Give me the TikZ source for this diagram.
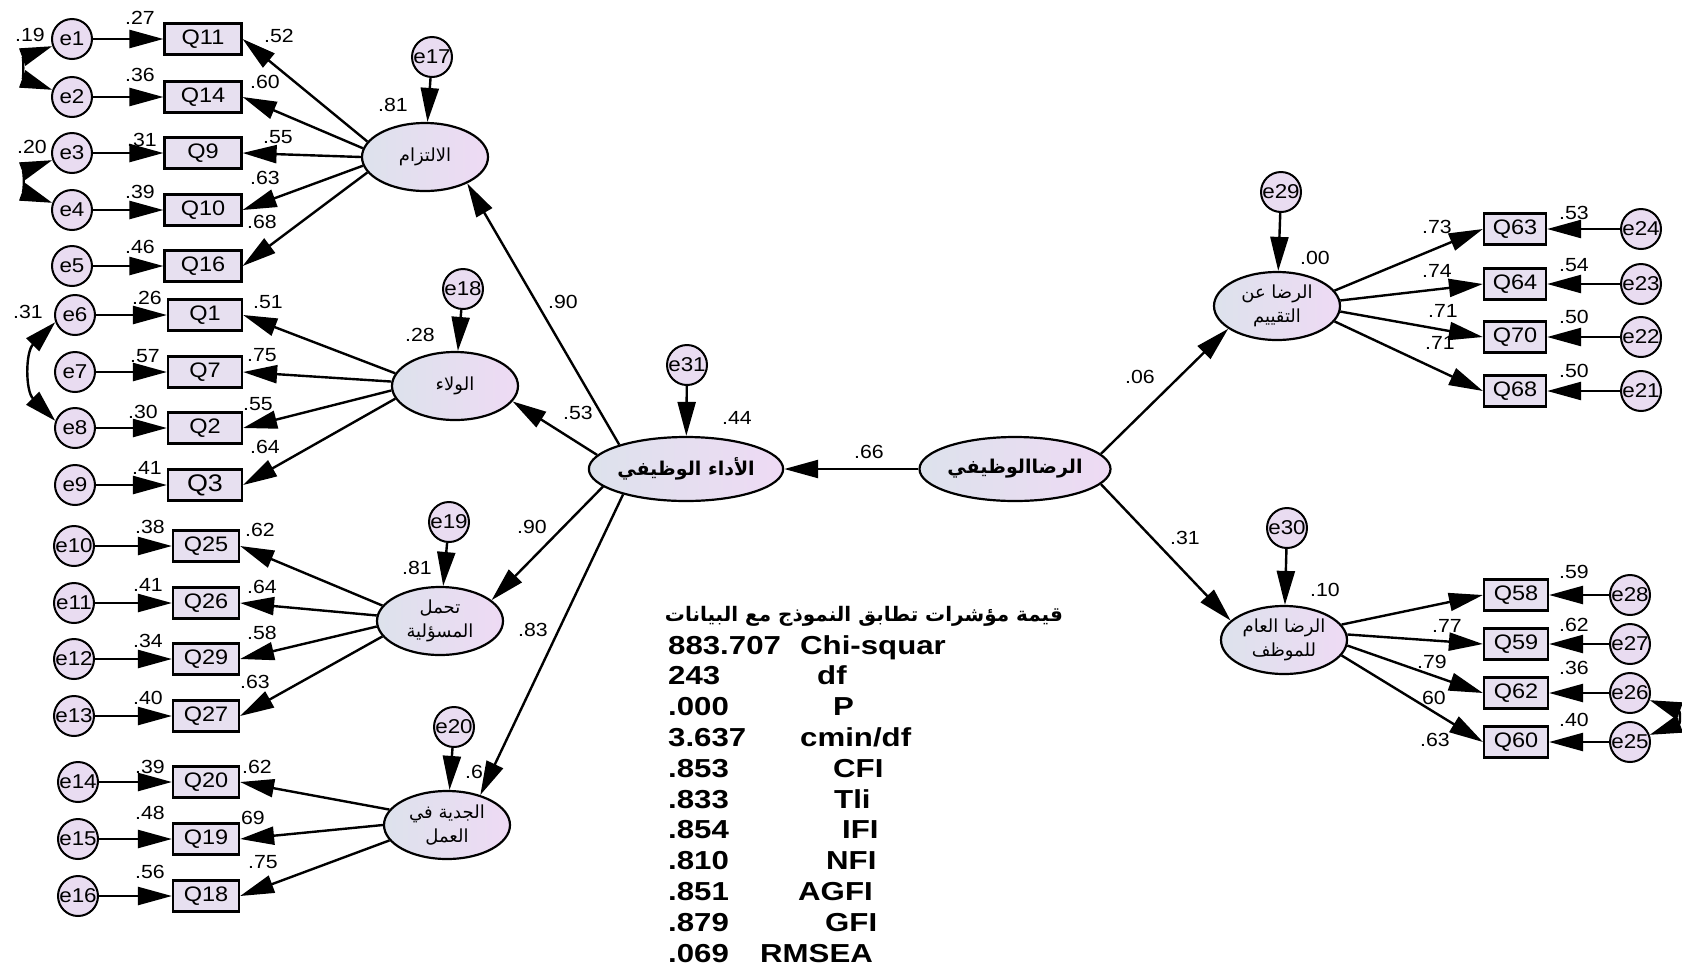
\documentclass[tikz,border=0pt]{standalone}
\usepackage{fontspec}
\setmainfont{Liberation Sans}[FakeStretch=1.12]
\newfontfamily\fitfont{Liberation Sans}[FakeStretch=1.2]
\newfontfamily\arabicfont[Script=Arabic]{DejaVu Sans}
\TeXXeTstate=1
\usetikzlibrary{arrows.meta,shapes.geometric}
\definecolor{errfill}{HTML}{E9DCF1}
\definecolor{boxfill}{HTML}{E7E0F0}
\definecolor{latleft}{HTML}{DDE2EC}
\definecolor{latright}{HTML}{EEDAF4}
\newcommand{\artxt}[1]{\beginR#1\endR}

\begin{document}
\begin{tikzpicture}[x=1pt,y=-1pt,
  err/.style={circle,draw,line width=2pt,fill=errfill,minimum size=40pt,inner sep=0pt,font=\fontsize{20}{20}\selectfont},
  obs/.style={rectangle,draw,line width=2.2pt,fill=boxfill,minimum height=31pt,inner sep=0pt,font=\fontsize{21}{21}\selectfont},
  lat/.style={ellipse,draw,line width=2.2pt,left color=latleft,right color=latright,minimum width=126pt,minimum height=68pt,inner sep=0pt,align=center,font=\arabicfont\fontsize{18}{24}\selectfont},
  val/.style={inner sep=0pt,font=\fontsize{19}{19}\selectfont},
  arr/.style={line width=2.4pt,-{Triangle[length=34pt,width=18pt]}},
  cov/.style={line width=2.4pt,{Triangle[length=32pt,width=18pt]}-{Triangle[length=32pt,width=18pt]}},
  fitrow/.style={inner sep=0pt,anchor=base west,font=\fitfont\bfseries\fontsize{26}{26}\selectfont}]
\useasboundingbox (0,0) rectangle (1682,970);

% الالتزام
\node[lat] (A1) at (425,157) {\artxt{الالتزام}};
\node[err] (e17) at (432,57) {e17};
\draw[arr] (e17) -- (A1);
\foreach \e/\q/\y/\a in {1/11/39/165,2/14/97/172,3/9/153/180,4/10/210/188,5/16/266/195}{
  \node[err] (e\e) at (72,\y) {e\e};
  \node[obs,minimum width=77pt] (Q\q) at (203,\y) {Q\q};
  \draw[arr] (e\e) -- (Q\q);
  \draw[arr] (A1.\a) -- (Q\q.east);
}
\draw[cov] (e1.200) to[out=200,in=160,looseness=1.8] (e2.160);
\draw[cov] (e3.200) to[out=200,in=160,looseness=1.8] (e4.160);
\foreach \v/\x/\y [count=\i] in {.27/140/18,.36/140/75,.31/142/140,.39/140/192,.46/140/247,.52/279/36,.60/265/82,.55/278/137,.63/265/178,.68/262/222,.81/393/105,.19/30/35,.20/32/147}
  \node[val] (la\i) at (\x,\y) {\v};

% الولاء
\node[lat] (A2) at (455,386) {\artxt{الولاء}};
\node[err] (e18) at (463,289) {e18};
\draw[arr] (e18) -- (A2);
\foreach \e/\q/\y/\a/\fs in {6/1/315/168/21,7/7/372/176/21,8/2/428/184/21,9/3/485/192/24}{
  \node[err] (e\e) at (75,\y) {e\e};
  \node[obs,minimum width=74pt,font=\fontsize{\fs}{\fs}\selectfont] (Q\q) at (205,\y) {Q\q};
  \draw[arr] (e\e) -- (Q\q);
  \draw[arr] (A2.\a) -- (Q\q.east);
}
\draw[cov] (e6.200) to[out=225,in=135,looseness=1.1] (e8.160);
\foreach \v/\x/\y [count=\i] in {.26/147/298,.57/145/356,.30/143/412,.41/147/468,.51/268/302,.75/262/355,.55/258/404,.64/265/447,.28/420/335,.31/28/312}
  \node[val] (lb\i) at (\x,\y) {\v};

% تحمل المسؤلية
\node[lat] (A3) at (440,621) {\artxt{تحمل}\\\artxt{المسؤلية}};
\node[err] (e19) at (449,522) {e19};
\draw[arr] (e19) -- (A3);
\foreach \e/\q/\y/\a in {10/25/546/165,11/26/603/175,12/29/659/185,13/27/716/195}{
  \node[err] (e\e) at (74,\y) {e\e};
  \node[obs,minimum width=66pt] (Q\q) at (206,\y) {Q\q};
  \draw[arr] (e\e) -- (Q\q);
  \draw[arr] (A3.\a) -- (Q\q.east);
}
\foreach \v/\x/\y [count=\i] in {.38/150/527,.41/148/585,.34/148/641,.40/148/698,.62/260/530,.64/262/587,.58/262/633,.63/255/682,.81/417/568}
  \node[val] (lc\i) at (\x,\y) {\v};

% الجدية في العمل
\node[lat] (A4) at (447,825) {\artxt{الجدية في}\\\artxt{العمل}};
\node[err] (e20) at (454,727) {e20};
\draw[arr] (e20) -- (A4);
\foreach \e/\q/\y/\a in {14/20/782/165,15/19/839/180,16/18/896/195}{
  \node[err] (e\e) at (78,\y) {e\e};
  \node[obs,minimum width=66pt] (Q\q) at (206,\y) {Q\q};
  \draw[arr] (e\e) -- (Q\q);
  \draw[arr] (A4.\a) -- (Q\q.east);
}
\foreach \v/\x/\y [count=\i] in {.39/150/767,.48/150/813,.56/150/872,.62/257/767,69/253/818,.75/263/862,.6/474/772}
  \node[val] (ld\i) at (\x,\y) {\v};

% الأداء الوظيفي
\node[lat,minimum width=177pt,minimum height=64pt,font=\arabicfont\bfseries\fontsize{19}{19}\selectfont] (C) at (686,469) {\artxt{الأداء الوظيفي}};
\node[err] (e31) at (687,365) {e31};
\draw[arr] (e31) -- (C);
\draw[arr] (C.160) -- (A1.-32);
\draw[arr] (C.171) -- (A2.-15);
\draw[arr] (C.192) -- (A3.22);
\draw[arr] (C.202) -- (A4.42);
\foreach \v/\x/\y [count=\i] in {.90/563/302,.53/578/413,.90/532/527,.83/533/630,.44/737/418,.66/869/452}
  \node[val] (le\i) at (\x,\y) {\v};

% الرضاالوظيفي
\node[lat,minimum width=178pt,minimum height=64pt,font=\arabicfont\bfseries\fontsize{19}{19}\selectfont] (S) at (1015,469) {\artxt{الرضاالوظيفي}};
\draw[arr] (S) -- (C);

% الرضا عن التقييم
\node[lat] (R1) at (1277,306) {\artxt{الرضا عن}\\\artxt{التقييم}};
\node[err] (e29) at (1281,192) {e29};
\draw[arr] (e29) -- (R1);
\draw[arr] (S.10) -- (R1.205);
\foreach \e/\q/\y/\a in {24/63/229/15,23/64/284/5,22/70/337/-5,21/68/391/-15}{
  \node[err] (e\e) at (1641,\y) {e\e};
  \node[obs,minimum width=62pt] (Q\q) at (1515,\y) {Q\q};
  \draw[arr] (e\e) -- (Q\q);
  \draw[arr] (R1.\a) -- (Q\q.west);
}

% الرضا العام للموظف
\node[lat] (R2) at (1284,640) {\artxt{الرضا العام}\\\artxt{للموظف}};
\node[err] (e30) at (1287,528) {e30};
\draw[arr] (e30) -- (R2);
\draw[arr] (S.-10) -- (R2.160);
\foreach \e/\q/\y/\a in {28/58/595/15,27/59/644/5,26/62/693/-5,25/60/742/-15}{
  \node[err] (e\e) at (1630,\y) {e\e};
  \node[obs,minimum width=64pt] (Q\q) at (1516,\y) {Q\q};
  \draw[arr] (e\e) -- (Q\q);
  \draw[arr] (R2.\a) -- (Q\q.west);
}
\draw[cov] (e26.-20) to[out=-20,in=20,looseness=2.4] (e25.20);
\foreach \v/\x/\y [count=\i] in {.06/1140/377,.31/1185/538,.00/1315/258,.10/1325/590,.73/1437/227,.74/1437/271,.71/1443/311,.71/1440/343,.53/1574/213,.54/1574/265,.50/1574/317,.50/1574/371,.59/1574/572,.62/1574/625,.36/1574/668,.40/1574/720,.77/1447/626,.79/1432/662,.60/1431/698,.63/1435/740}
  \node[val] (lf\i) at (\x,\y) {\v};

% مؤشرات المطابقة
\node[inner sep=0pt,anchor=base,font=\arabicfont\bfseries\fontsize{20}{20}\selectfont] (fithead) at (864,621) {\artxt{قيمة مؤشرات تطابق النموذج مع البيانات}};
\foreach \v/\k/\kx [count=\i] in {883.707/Chi-squar/800,243/df/817,.000/P/833,3.637/{cmin/df}/800,.853/CFI/833,.833/Tli/834,.854/IFI/842,.810/NFI/826,.851/AGFI/798,.879/GFI/825,.069/RMSEA/760}{
  \node[fitrow] (fv\i) at (668,{623.2+30.8*\i}) {\v};
  \node[fitrow] (fk\i) at (\kx,{623.2+30.8*\i}) {\k};
}
\end{tikzpicture}
\end{document}
